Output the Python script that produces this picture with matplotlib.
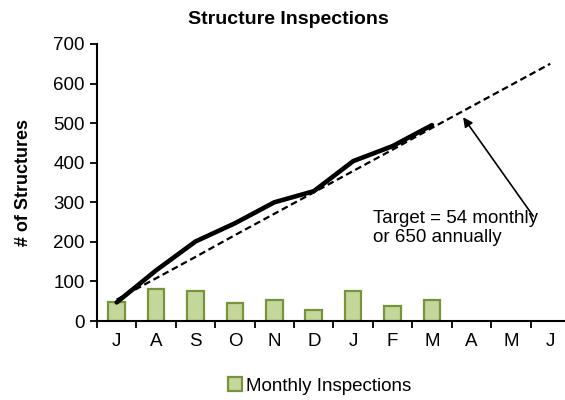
import numpy as np
import matplotlib.pyplot as plt

plt.rcParams['font.family'] = ['Liberation Sans', 'DejaVu Sans']

# Chart data
months = ['J', 'A', 'S', 'O', 'N', 'D', 'J', 'F', 'M', 'A', 'M', 'J']
monthly = [47, 82, 75, 45, 54, 29, 76, 38, 53]
cumulative = [47, 128, 201, 247, 300, 328, 404, 442, 495]
target = [54, 108, 162, 217, 271, 325, 379, 433, 488, 542, 596, 650]
y_ticks = [0, 100, 200, 300, 400, 500, 600, 700]


def make_chart():
    fig = plt.figure(figsize=(5.65, 4.0), dpi=100)
    ax = fig.add_axes([0.1717, 0.1975, 0.837, 0.6925])

    x_all = np.arange(len(months))
    x_done = np.arange(len(monthly))

    # bars for monthly inspections
    ax.bar(x_done, monthly, width=0.42, color='#C4D79B', edgecolor='#77933C',
           linewidth=1.6, label='Monthly Inspections', zorder=2)

    # target dashed line and actual cumulative line
    ax.plot(x_all, target, color='black', linestyle=(0, (3, 1.7)),
            linewidth=1.6, zorder=3)
    ax.plot(x_done, cumulative, color='black', linewidth=3.3,
            solid_capstyle='round', zorder=4)

    ax.set_xlim(-0.5, len(months) - 0.5)
    ax.set_ylim(0, 700)
    ax.set_yticks(y_ticks)

    ax.set_xticks(x_all)
    ax.set_xticklabels(months)
    ax.set_xticks(np.arange(-0.5, len(months) + 0.5, 1), minor=True)
    ax.tick_params(axis='x', which='major', length=0, pad=9, labelsize=13.5)
    ax.tick_params(axis='x', which='minor', length=5, width=1.3,
                   direction='out')
    ax.tick_params(axis='y', length=5, width=1.3, labelsize=13.5, pad=4)

    for side in ['top', 'right']:
        ax.spines[side].set_visible(False)
    for side in ['left', 'bottom']:
        ax.spines[side].set_linewidth(1.5)

    ax.set_ylabel('# of Structures', fontsize=13, fontweight='bold',
                  labelpad=15)
    fig.text(0.51, 0.952, 'Structure Inspections', ha='center', va='center',
             fontsize=14, fontweight='bold')

    # annotation for target
    ax.annotate('', xy=(8.79, 515), xytext=(10.57, 265),
                arrowprops=dict(arrowstyle='-|>', color='black', lw=1.2,
                                mutation_scale=14, shrinkA=0, shrinkB=0))
    ax.text(6.5, 236, 'Target = 54 monthly\nor 650 annually',
            fontsize=13.5, ha='left', va='center', linespacing=1.15)

    fig.legend(loc='center', bbox_to_anchor=(0.565, 0.035), frameon=False,
               fontsize=13.5, handlelength=0.75, handleheight=0.75,
               handletextpad=0.2, borderaxespad=0)

    fig.savefig('out.png', dpi=100)


if __name__ == '__main__':
    make_chart()
